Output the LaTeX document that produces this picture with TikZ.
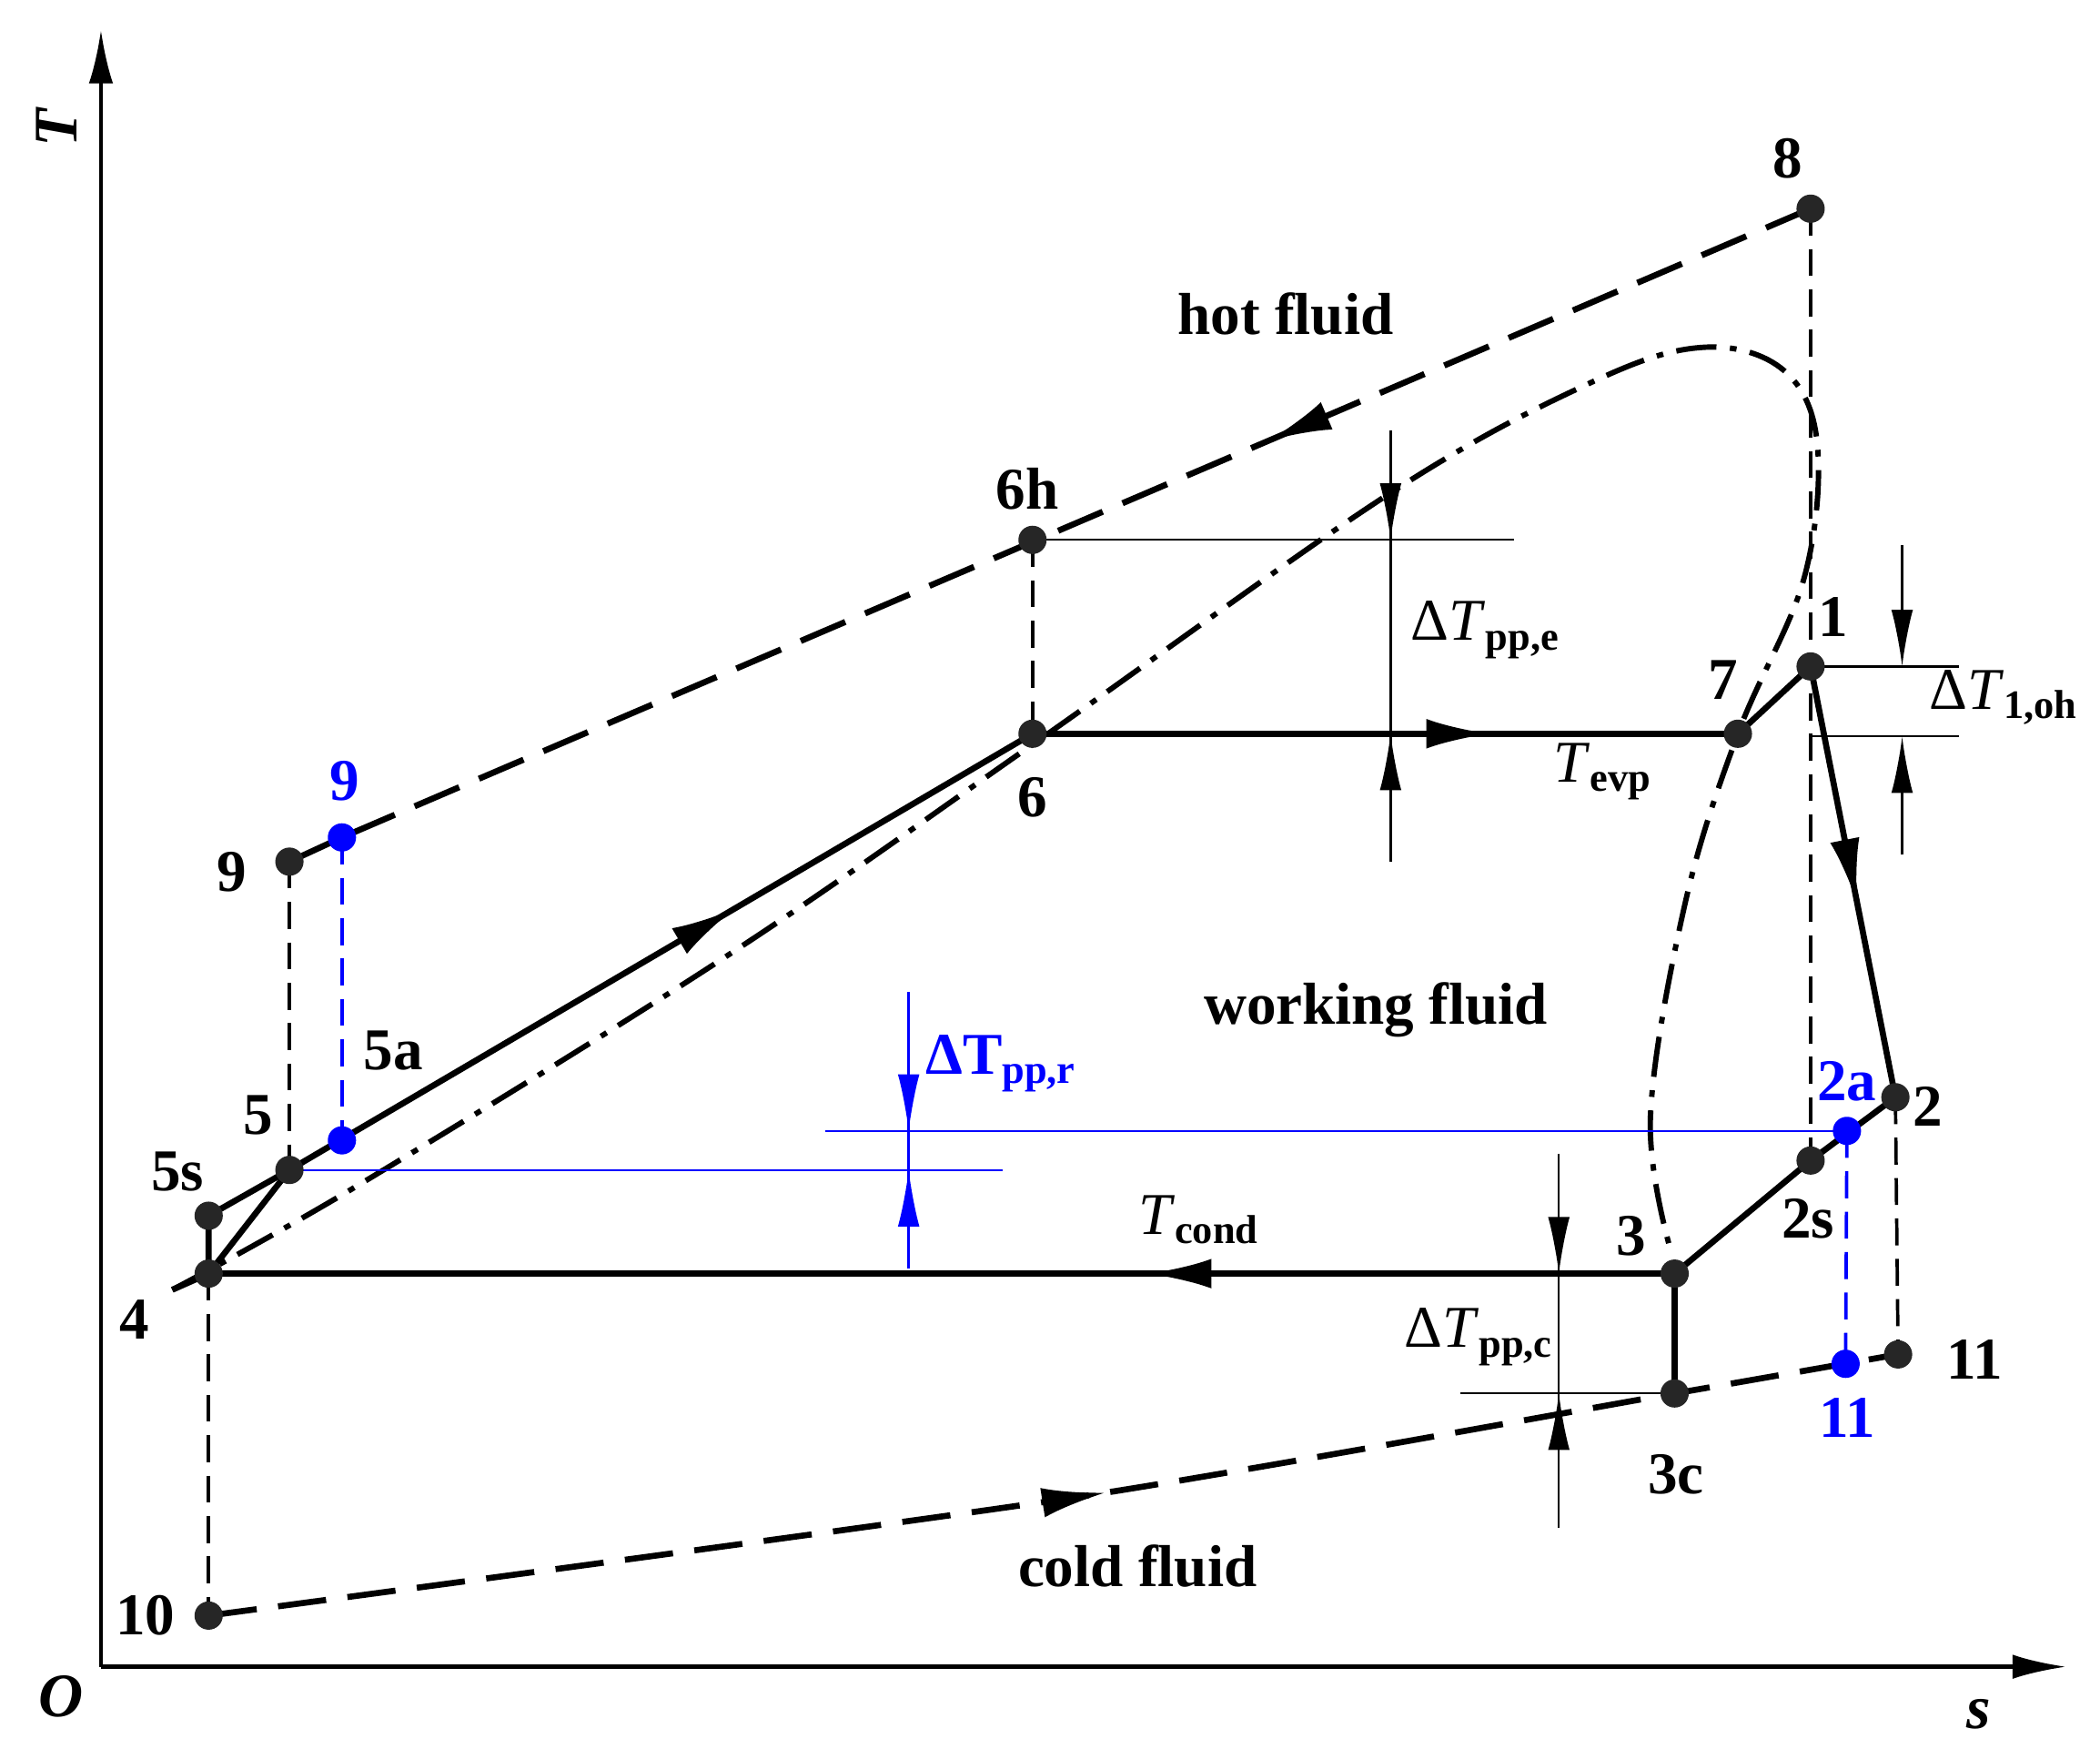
\documentclass[tikz,border=0pt]{standalone}
\usepackage{fontspec}
\setmainfont{Liberation Serif}
\usetikzlibrary{arrows.meta,decorations.markings}
\definecolor{bl}{RGB}{0,0,255}
\begin{document}
\begin{tikzpicture}[x=1pt,y=-1pt,
 dot/.style={circle,fill=black!85,inner sep=0pt,minimum size=21pt},
 bdot/.style={circle,fill=bl,inner sep=0pt,minimum size=21pt},
 lab/.style={font=\fontsize{44}{50}\selectfont\bfseries},
 sub/.style={font=\fontsize{44}{50}\selectfont},
 wf/.style={line width=4.5pt},
 hf/.style={line width=4.5pt,dash pattern=on 36pt off 16pt},
 vd/.style={line width=2.5pt,dash pattern=on 20pt off 10pt},
 thin/.style={line width=1.6pt},
 mid/.style={postaction={decorate},decoration={markings,mark=at position #1 with {\arrow{Latex[length=48pt,width=22pt]}}}},
 pin/.style={line width=1.6pt,-{Latex[length=42pt,width=16pt]}}]
\useasboundingbox (0,0) rectangle (1560,1306);
% axes
\coordinate (O) at (75,1238);
\coordinate (Ty) at (75,22);
\coordinate (Sx) at (1535,1238);
\draw[line width=3pt,-{Latex[length=40pt,width=18pt]}] (O) -- (Ty);
\draw[line width=3pt,-{Latex[length=40pt,width=18pt]}] (O) -- (Sx);
\node[font=\fontsize{46}{50}\selectfont\bfseries\itshape,rotate=90] (tT) at (42,95) {T};
\node[font=\fontsize{46}{50}\selectfont\bfseries\itshape] (tO) at (45,1260) {O};
\node[font=\fontsize{46}{50}\selectfont\bfseries\itshape] (ts) at (1470,1273) {s};
% points
\coordinate (p8) at (1345,155);
\coordinate (p6h) at (767,401);
\coordinate (p6) at (767,545);
\coordinate (p7) at (1291,545);
\coordinate (p1) at (1345,495);
\coordinate (p2) at (1408,815);
\coordinate (p2a) at (1372,840);
\coordinate (p2s) at (1345,862);
\coordinate (p3) at (1244,946);
\coordinate (p3c) at (1244,1035);
\coordinate (p11) at (1410,1006);
\coordinate (p11b) at (1371,1013);
\coordinate (p10) at (155,1200);
\coordinate (p4) at (155,946);
\coordinate (p5s) at (155,903);
\coordinate (p5) at (215,869);
\coordinate (p5a) at (254,847);
\coordinate (p9) at (215,640);
\coordinate (p9b) at (254,622);
% dome
\draw[line width=4pt,dash pattern=on 30pt off 10pt on 5pt off 10pt] plot[smooth,tension=0.6] coordinates {(128,958) (270,878) (540,710) (767,553) (1030,368) (1180,285) (1265,258) (1325,275) (1350,330) (1340,430) (1291,545) (1252,670) (1226,830) (1242,932)};
% hot fluid
\draw[hf,mid=0.37] (p8) -- (p9b);
\draw[wf] (p9b) -- (p9);
% verticals
\draw[vd] (p8) -- (p2s);
\draw[vd] (p6h) -- (p6);
\draw[vd] (p9) -- (p5);
\draw[vd,bl] (p9b) -- (p5a);
\draw[vd] (p2) -- (p11);
\draw[vd,bl] (p2a) -- (p11b);
\draw[vd] (p4) -- (p10);
\draw[wf] (p3) -- (p3c);
% cold fluid
\draw[hf,mid=0.53] plot[smooth,tension=0.4] coordinates {(p10) (800,1112) (p3c) (p11)};
% working fluid
\draw[wf] (p4) -- (p5);
\draw[wf,mid=0.6] (p5) -- (p6);
\draw[wf,mid=0.65] (p6) -- (p7);
\draw[wf] (p7) -- (p1);
\draw[wf,mid=0.55] (p1) -- (p2);
\draw[wf] (p2) -- (p2s) -- (p3);
\draw[wf,mid=0.36] (p3) -- (p4);
\draw[wf] (p4) -- (p5s) -- (p5);
\draw[wf] (p4) -- (128,958);
% delta Tpp,e
\coordinate (e1) at (1125,401);
\draw[thin] (p6h) -- (e1);
\coordinate (ea) at (1033,320); \coordinate (eb) at (1033,401);
\coordinate (ec) at (1033,640); \coordinate (ed) at (1033,545);
\draw[thin] (ea) -- (ec);
\draw[pin] (ea) -- (eb);
\draw[pin] (ec) -- (ed);
\node[sub] (lppe) at (1103,468) {Δ\textit{T}\fontsize{30}{34}\selectfont\bfseries\raisebox{-7pt}{pp,e}};
% delta T1,oh
\coordinate (o1) at (1455,495); \coordinate (o2) at (1455,547); \coordinate (o0) at (1345,547);
\draw[thin] (p1) -- (o1); \draw[thin] (o0) -- (o2);
\coordinate (oa) at (1413,405); \coordinate (ob) at (1413,495);
\coordinate (oc) at (1413,635); \coordinate (od) at (1413,547);
\draw[pin] (oa) -- (ob); \draw[pin] (oc) -- (od);
\node[sub] (loh) at (1488,518) {Δ\textit{T}\fontsize{30}{34}\selectfont\bfseries\raisebox{-7pt}{1,oh}};
% delta Tpp,r
\coordinate (r1) at (613,840); \coordinate (r2) at (745,869);
\draw[thin,bl] (r1) -- (p2a); \draw[thin,bl] (p5) -- (r2);
\coordinate (ra) at (675,737); \coordinate (rb) at (675,840);
\coordinate (rc) at (675,942); \coordinate (rd) at (675,869);
\draw[thin,bl] (ra) -- (rc);
\draw[pin,bl] (ra) -- (rb); \draw[pin,bl] (rc) -- (rd);
\node[lab,text=bl,anchor=west] (lppr) at (684,790) {ΔT\fontsize{30}{34}\selectfont\raisebox{-7pt}{pp,r}};
% delta Tpp,c
\coordinate (c0) at (1085,1035);
\draw[thin] (c0) -- (p3c);
\coordinate (ca) at (1158,857); \coordinate (cb) at (1158,946);
\coordinate (cc) at (1158,1135); \coordinate (cd) at (1158,1035);
\draw[thin] (ca) -- (cc);
\draw[pin] (ca) -- (cb); \draw[pin] (cc) -- (cd);
\node[sub] (lppc) at (1098,993) {Δ\textit{T}\fontsize{30}{34}\selectfont\bfseries\raisebox{-7pt}{pp,c}};
% dots
\foreach \p in {p8,p6h,p6,p7,p1,p2,p2s,p3,p3c,p11,p10,p4,p5s,p5,p9}{\node[dot] (d\p) at (\p) {};}
\foreach \p in {p2a,p11b,p5a,p9b}{\node[bdot] (d\p) at (\p) {};}
% labels
\node[lab] (l8) at (1328,118) {8};
\node[lab] (l6h) at (763,363) {6h};
\node[lab] (l6) at (767,592) {6};
\node[lab] (l7) at (1280,505) {7};
\node[lab] (l1) at (1362,458) {1};
\node[lab] (l2) at (1432,822) {2};
\node[lab,text=bl] (l2a) at (1372,803) {2a};
\node[lab] (l2s) at (1343,905) {2s};
\node[lab] (l3) at (1212,918) {3};
\node[lab] (l3c) at (1245,1095) {3c};
\node[lab] (l11) at (1467,1010) {11};
\node[lab,text=bl] (l11b) at (1372,1053) {11};
\node[lab] (l10) at (108,1200) {10};
\node[lab] (l4) at (100,980) {4};
\node[lab] (l5s) at (132,870) {5s};
\node[lab] (l5) at (192,828) {5};
\node[lab] (l5a) at (292,780) {5a};
\node[lab] (l9) at (172,648) {9};
\node[lab,text=bl] (l9b) at (256,580) {9};
\node[lab] (hot) at (955,233) {hot fluid};
\node[lab] (work) at (1022,750) {working fluid};
\node[lab] (cold) at (845,1163) {cold fluid};
\node[sub] (tevp) at (1190,573) {\textit{T}\fontsize{30}{34}\selectfont\bfseries\raisebox{-7pt}{evp}};
\node[sub] (tcond) at (890,906) {\textit{T}\fontsize{30}{34}\selectfont\bfseries\raisebox{-7pt}{cond}};
\end{tikzpicture}
\end{document}
